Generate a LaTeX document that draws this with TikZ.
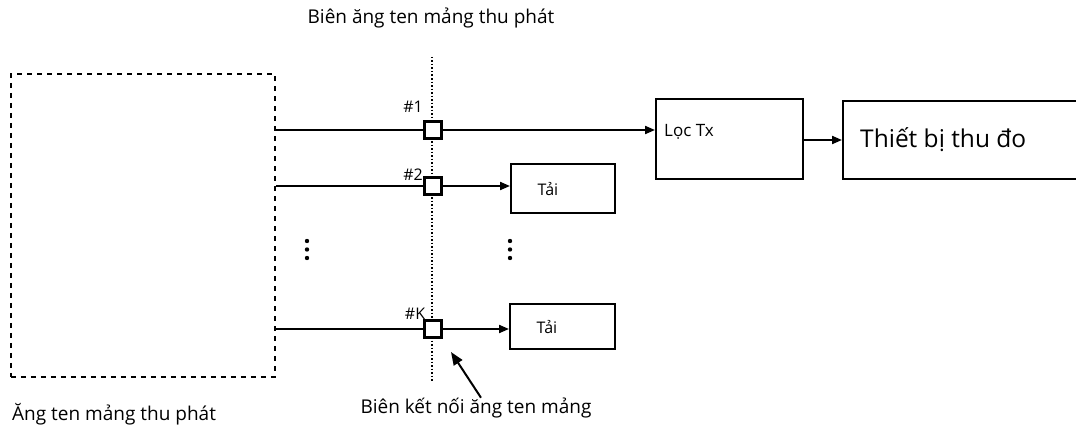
\documentclass[tikz,border=0pt]{standalone}
\usepackage{fontspec}
\setmainfont{Open Sans}
\usetikzlibrary{arrows.meta}
\begin{document}
\begin{tikzpicture}[x=1pt,y=-1pt,
  conn/.style={line width=2pt},
  arr/.style={conn,-{Triangle[length=10pt,width=8pt]}},
  port/.style={draw,line width=2.6pt,fill=white,minimum size=17pt,inner sep=0pt},
  blockbox/.style={draw,line width=1.7pt,inner sep=0pt},
  lbl/.style={inner sep=0pt,font=\fontsize{19}{22}\selectfont},
  small/.style={inner sep=0pt,font=\fontsize{16}{18}\selectfont},
  dotn/.style={circle,fill,inner sep=0pt,minimum size=4.4pt}]
\useasboundingbox (0,0) rectangle (1076,428);
% antenna array box
\node[draw,line width=1.9pt,dash pattern=on 5pt off 5pt,minimum width=264pt,minimum height=303pt,inner sep=0pt,anchor=north west] (ant) at (10,73) {};
% boundary line
\coordinate (vt) at (432,57);
\coordinate (vb) at (432,382);
\draw[line width=1.5pt,dash pattern=on 1.5pt off 2pt] (vt) -- (vb);
% ports
\node[port] (sq1) at (433,130) {};
\node[port] (sq2) at (433,186) {};
\node[port] (sqK) at (433,329) {};
\node[small] (l1) at (413,107) {\#1};
\node[small] (l2) at (413,175) {\#2};
\node[small] (lK) at (415,314) {\#K};
% feed lines
\coordinate (a1) at (ant.east |- sq1);
\coordinate (a2) at (ant.east |- sq2);
\coordinate (aK) at (ant.east |- sqK);
\draw[conn] (a1) -- (sq1.west);
\draw[conn] (a2) -- (sq2.west);
\draw[conn] (aK) -- (sqK.west);
% blocks
\node[blockbox,minimum width=147pt,minimum height=80pt,anchor=north west] (loc) at (655,98) {};
\node[inner sep=0pt,anchor=west,font=\fontsize{17}{19}\selectfont] (loct) at (664,132) {Lọc Tx};
\node[blockbox,minimum width=250pt,minimum height=78pt,anchor=north west] (thiet) at (842,100) {};
\node[inner sep=0pt,anchor=west,font=\fontsize{24.5}{28}\selectfont] (thiett) at (860,140) {Thiết bị thu đo};
\node[blockbox,minimum width=104pt,minimum height=49pt,anchor=north west] (tai2) at (510,163) {};
\node[small] (tai2t) at (548,189) {Tải};
\node[blockbox,minimum width=105pt,minimum height=45pt,anchor=north west] (taiK) at (509,303) {};
\node[small] (taiKt) at (547,327) {Tải};
% arrows
\draw[arr] (sq1.east) -- (sq1.east -| loc.west);
\draw[arr] (loc.east |- thiett) -- (thiet.west |- thiett);
\draw[arr] (sq2.east) -- (sq2.east -| tai2.west);
\draw[arr] (sqK.east) -- (sqK.east -| taiK.west);
% ellipses
\node[dotn] (d1) at (307,241) {};
\node[dotn] (d2) at (307,249.5) {};
\node[dotn] (d3) at (307,258) {};
\node[dotn] (e1) at (510,241) {};
\node[dotn] (e2) at (510,249.5) {};
\node[dotn] (e3) at (510,258) {};
% labels
\node[lbl] (top) at (431,18) {Biên ăng ten mảng thu phát};
\node[lbl,anchor=west] (antl) at (12,414) {Ăng ten mảng thu phát};
\node[lbl] (bl) at (476,408) {Biên kết nối ăng ten mảng};
\coordinate (tip) at (451,352);
\draw[line width=2pt,-{Triangle[length=13pt,width=10pt]}] ([xshift=5pt]bl.north) -- (tip);
\end{tikzpicture}
\end{document}
